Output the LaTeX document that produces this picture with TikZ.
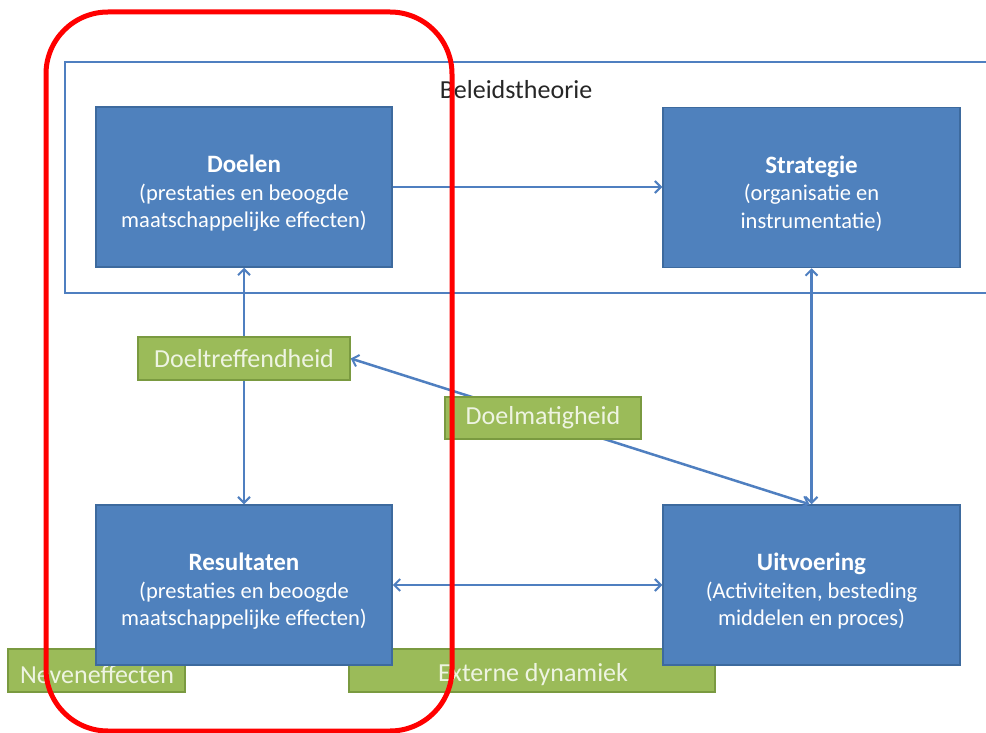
\documentclass[tikz,border=0pt]{standalone}
\usepackage{fontspec}
\setmainfont{Carlito}
\usetikzlibrary{arrows.meta}
\definecolor{blueF}{HTML}{4F81BD}
\definecolor{blueD}{HTML}{3D6A9E}
\definecolor{lineC}{HTML}{4F7FC0}
\definecolor{greenF}{HTML}{9BBB59}
\definecolor{greenD}{HTML}{7A9A40}
\definecolor{greenT}{HTML}{EEF4E2}
\definecolor{redC}{HTML}{FF0000}
\newcommand{\ttl}[1]{\rule{0pt}{30pt}{\fontsize{25}{27.5}\selectfont\bfseries #1}}
\tikzset{
  bluebox/.style={rectangle, fill=blueF, draw=blueD, line width=1.5pt,
    minimum width=296pt, minimum height=160pt, inner sep=0pt, text=white,
    align=center, font=\fontsize{22.5}{27.5}\selectfont},
  greenbox/.style={rectangle, fill=greenF, draw=greenD, line width=1.5pt,
    inner sep=0pt, text=greenT, font=\fontsize{26}{28}\selectfont},
  conn/.style={draw=lineC, line width=2.5pt},
  tip/.tip={Straight Barb[length=6pt,width=12pt,line width=2pt]},
  framebox/.style={draw=lineC, line width=2.5pt},
  redbox/.style={draw=redC, line width=5pt, rounded corners=62pt}
}
\begin{document}
\begin{tikzpicture}[x=1pt,y=-1pt]
\useasboundingbox (0,0) rectangle (986,733);
\fill[white] (0,0) rectangle (986,733);
% frame Beleidstheorie (right side runs off the picture)
\coordinate (fa) at (990,62);
\coordinate (fb) at (65,62);
\coordinate (fc) at (65,293);
\coordinate (fd) at (990,293);
\draw[framebox] (fa) -- (fb) -- (fc) -- (fd);
\node[font=\fontsize{26}{28}\selectfont, text=black!85] (bt) at (516,90) {Beleidstheorie};
% bottom green bands (behind blue boxes)
\node[greenbox, minimum width=177pt, minimum height=43pt] (neven) at (96.5,670.5) {};
\node[text=greenT, font=\fontsize{26}{28}\selectfont] (nevent) at (97,675) {Neveneffecten};
\node[greenbox, minimum width=366pt, minimum height=43pt] (extern) at (532,670.5) {};
\node[text=greenT, font=\fontsize{26}{28}\selectfont] (externt) at (533,675) {Externe dynamiek};
% blue boxes
\node[bluebox] (doelen) at (244,187) {\ttl{Doelen}\\(prestaties en beoogde\\maatschappelijke effecten)};
\node[bluebox, minimum width=297pt] (strategie) at (811.5,187.5) {\ttl{Strategie}\\(organisatie en\\instrumentatie)};
\node[bluebox] (resultaten) at (244,585) {\ttl{Resultaten}\\(prestaties en beoogde\\maatschappelijke effecten)};
\node[bluebox, minimum width=297pt] (uitvoering) at (811.5,585) {\ttl{Uitvoering}\\(Activiteiten, besteding\\middelen en proces)};
% green labels positions
\coordinate (treffc) at (244,358.5);
\coordinate (matigc) at (543,418);
% connectors
\draw[conn, -{tip}] (doelen.east |- 0,187) -- (strategie.west |- 0,187);
\draw[conn, {tip}-{tip}] (doelen.south) -- (resultaten.north);
\draw[conn, {tip}-{tip}] (strategie.south) -- (uitvoering.north);
\draw[conn, {tip}-{tip}] (resultaten.east |- 0,585) -- (uitvoering.west |- 0,585);
\node[greenbox, minimum width=212pt, minimum height=43pt] (treff) at (treffc) {Doeltreffendheid};
\draw[conn, {tip}-{tip}] (treff.east) -- ([xshift=-2pt]uitvoering.north);
\node[greenbox, minimum width=196pt, minimum height=42pt] (matig) at (matigc) {Doelmatigheid};
% red highlight
\draw[redbox] (46,12) rectangle (452,731);
\end{tikzpicture}
\end{document}
